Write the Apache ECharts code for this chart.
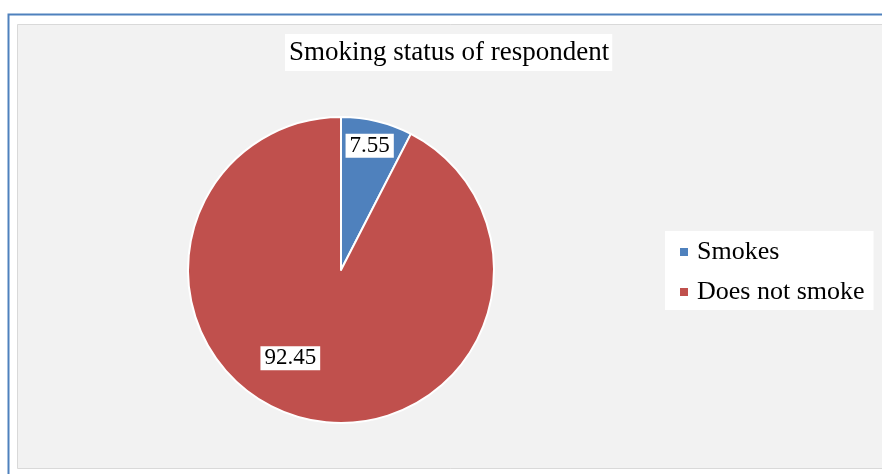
<!DOCTYPE html>
<html>
<head>
<meta charset="utf-8">
<script src="https://cdn.jsdelivr.net/npm/echarts@6/dist/echarts.min.js"></script>
<style>
  html, body { margin: 0; padding: 0; background: #ffffff; }
  #chart { width: 882px; height: 474px; }
</style>
</head>
<body>
<div id="chart"></div>
<script>
// Smoking status shares (percent of respondents)
const categories = ['Smokes', 'Does not smoke'];
const shares = [7.55, 92.45];
const colors = ['#4f81bd', '#c0504d'];

// label nudges (px) so the boxes sit where the labels are read best
const labelShift = [[10, -47], [-32, 11]];

const serif = '"Liberation Serif", "Times New Roman", serif';

const chart = echarts.init(document.getElementById('chart'), null, { renderer: 'canvas' });

chart.setOption({
  backgroundColor: '#ffffff',
  animation: false,
  graphic: [
    {
      type: 'rect', z: -10, silent: true,
      shape: { x: 8.5, y: 14.5, width: 900, height: 500 },
      style: { fill: '#ffffff', stroke: '#4f81bd', lineWidth: 2 }
    },
    {
      type: 'rect', z: -9, silent: true,
      shape: { x: 17.5, y: 24.5, width: 900, height: 444 },
      style: { fill: '#f2f2f2', stroke: '#d9d9d9', lineWidth: 1 }
    }
  ],
  title: {
    text: 'Smoking status of respondent',
    left: 285,
    top: 34,
    padding: [4, 3, 4, 4],
    backgroundColor: '#ffffff',
    textStyle: {
      fontFamily: serif,
      fontSize: 27,
      fontWeight: 'normal',
      color: '#000000',
      lineHeight: 29
    }
  },
  legend: {
    orient: 'vertical',
    left: 665,
    top: 231,
    padding: [8, 9, 5, 13],
    backgroundColor: '#ffffff',
    icon: 'rect',
    itemWidth: 10,
    itemHeight: 10,
    itemGap: 14,
    data: categories,
    textStyle: {
      fontFamily: serif,
      fontSize: 26,
      color: '#000000',
      lineHeight: 26,
      padding: [0, 0, 0, 3]
    }
  },
  series: [
    {
      type: 'pie',
      center: [341, 270],
      radius: 153,
      startAngle: 90,
      clockwise: true,
      avoidLabelOverlap: false,
      itemStyle: { borderColor: '#ffffff', borderWidth: 2 },
      label: {
        show: true,
        position: 'inside',
        formatter: p => p.value.toFixed(2),
        fontFamily: serif,
        fontSize: 23,
        color: '#000000',
        backgroundColor: '#ffffff',
        lineHeight: 23,
        padding: [1, 4, 0, 4]
      },
      labelLayout: function (params) {
        const s = labelShift[params.dataIndex];
        return { dx: s[0], dy: s[1] };
      },
      labelLine: { show: false },
      emphasis: { disabled: true },
      data: categories.map((name, i) => ({
        name: name,
        value: shares[i],
        itemStyle: { color: colors[i] }
      }))
    }
  ]
});
</script>
</body>
</html>
